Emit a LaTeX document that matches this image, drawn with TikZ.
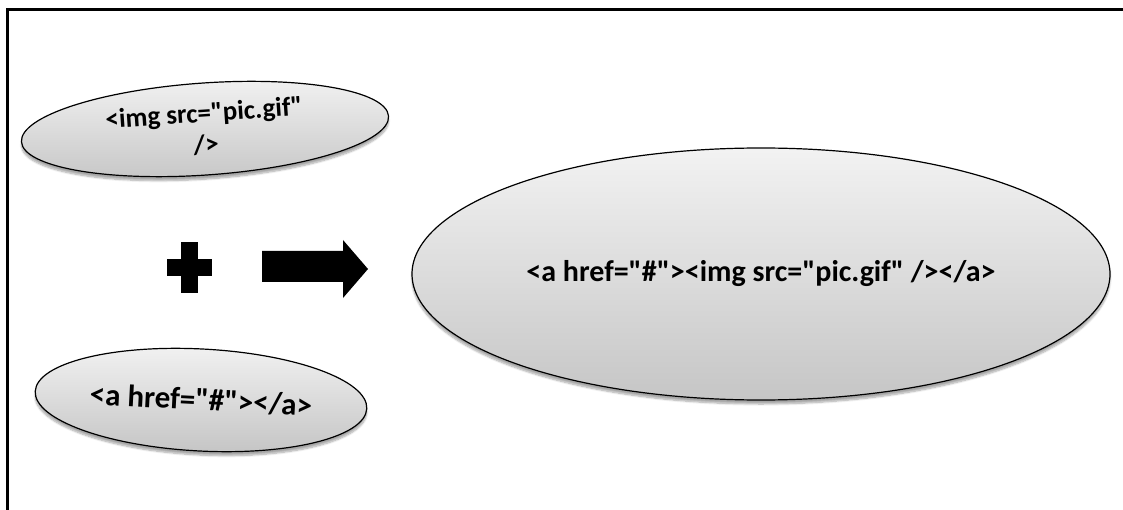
\documentclass[tikz,border=0pt]{standalone}
\usepackage{fontspec}
\setmainfont{Carlito}[Ligatures=TeXOff]
\usetikzlibrary{shapes.geometric,shadows.blur}
\tikzset{
  bubble/.style={ellipse, draw=black, line width=1.2pt, inner sep=0pt,
    top color=gray!10, bottom color=gray!45,
    blur shadow={shadow xshift=0pt, shadow yshift=-4pt, shadow blur steps=8, shadow opacity=35},
    align=center, font=\bfseries},
  frameline/.style={line width=3pt, black}
}
\begin{document}
\begin{tikzpicture}[x=1pt,y=-1pt]
\useasboundingbox (0,0) rectangle (1123,510);
\draw[frameline] (7,510) -- (7,10) -- (1123,10);
\node[bubble, minimum width=368pt, minimum height=92pt, rotate=4,
  font=\bfseries\fontsize{27}{31}\selectfont] (img) at (205,129)
  {<img src="pic.gif"\\[1pt]/>};
\node[bubble, minimum width=332pt, minimum height=102pt, rotate=-3,
  font=\bfseries\fontsize{31}{34}\selectfont] (a) at (201,400)
  {<a href="\#"></a>};
\node[bubble, minimum width=698pt, minimum height=252pt,
  font=\bfseries\fontsize{30}{33}\selectfont] (res) at (761,274)
  {<a href="\#"><img src="pic.gif" /></a>};
\fill (181,242) rectangle (198,293);
\fill (167,259) rectangle (212,276);
\fill (262,251) -- (343,251) -- (343,240) -- (368,269) -- (343,298) -- (343,282) -- (262,282) -- cycle;
\end{tikzpicture}
\end{document}
